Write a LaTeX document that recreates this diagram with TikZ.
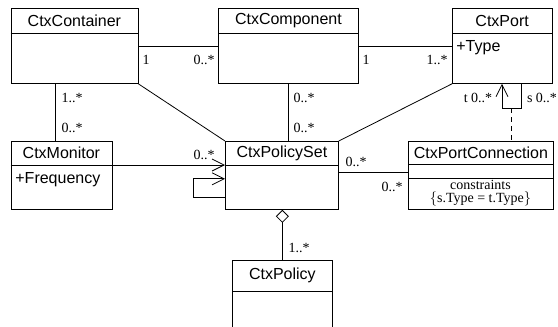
\documentclass[tikz,border=0pt]{standalone}
\usepackage{fontspec}
\setmainfont{Liberation Serif}
\setsansfont{Liberation Sans}
\usetikzlibrary{arrows.meta}
\usetikzlibrary{positioning}
\tikzset{classbox/.style = {draw, rectangle, inner sep = 0, anchor = north west}}
\tikzset{classname/.style = {font = \sffamily\fontsize{16}{16}\selectfont, inner sep = 0}}
\tikzset{attr/.style = {font = \sffamily\fontsize{16}{16}\selectfont, inner sep = 0, anchor = north west}}
\tikzset{mult/.style = {font = \fontsize{14}{14}\selectfont, inner sep = 0}}
\tikzset{nav/.style = {-{Straight Barb[length=12pt, width=12pt]}}}
\tikzset{agg/.style = {{Diamond[open, length=13pt, width=13pt]}-}}
% name, x, y, width, height, header height, title
\newcommand{\ctxclass}[7]{%
  \node [classbox, minimum width=#4, minimum height=#5] (#1) at (#2, #3) {};
  \draw ([yshift=-#6 pt]#1.north west) -- ([yshift=-#6 pt]#1.north east);
  \node [classname] (#1-name) at ([yshift=-#6 pt/2]#1.north) {#7};
}

\begin{document}
\begin{tikzpicture}[x=1pt, y=-1pt, line width=0.8pt]
    \clip (0, 0) rectangle (558, 327);

    \ctxclass{container}{10.5}{8}{127}{75}{25}{CtxContainer}
    \ctxclass{component}{218}{8}{140}{75}{25}{CtxComponent}
    \ctxclass{port}{452}{8}{99.5}{75}{25}{CtxPort}
    \ctxclass{monitor}{10.5}{141}{101}{68}{24}{CtxMonitor}
    \ctxclass{policyset}{225}{141}{113}{68}{24}{CtxPolicySet}
    \ctxclass{portconn}{408}{141}{145}{68}{23.5}{CtxPortConnection}
    \ctxclass{policy}{232}{260}{100}{90}{31}{CtxPolicy}

    \node [attr] (port-type) at (456, 40) {+Type};
    \node [attr] (monitor-freq) at (15, 172) {+Frequency};

    \draw ([yshift=-37pt]portconn.north west) -- ([yshift=-37pt]portconn.north east);
    \node [mult, align=center, font=\fontsize{14}{13}\selectfont] (portconn-rule) at (480.5, 193) {constraints\\$\{$s.Type = t.Type$\}$};

    \draw (container.east) -- (component.west)
      node [mult] at (146, 60) {1}
      node [mult] at (204, 60) {0..*};
    \draw (component.east) -- (port.west)
      node [mult] at (366, 60) {1}
      node [mult] at (437, 60) {1..*};

    \coordinate (c-down) at (55, 83);
    \draw (c-down) -- (c-down |- monitor.north)
      node [mult] at (72, 98) {1..*}
      node [mult] at (72, 128) {0..*};
    \draw (component.south) -- (component.south |- policyset.north)
      node [mult] at (304, 98) {0..*}
      node [mult] at (304, 128) {0..*};

    \draw (container.south east) -- (policyset.north west);
    \draw (port.south west) -- (policyset.north east);

    \draw [nav] ([yshift=-24pt]monitor.north east) -- ([yshift=-24pt]policyset.north west)
      node [mult] at (204, 155) {0..*};
    \draw [nav] ([yshift=12pt]policyset.south west) -- ++(-32, 0) -- ++(0, -19) -- ++(32, 0);

    \draw ([yshift=3pt]policyset.east) -- ([yshift=3pt]portconn.west)
      node [mult] at (356, 162) {0..*}
      node [mult] at (392, 187) {0..*};

    \draw [nav] ([xshift=69pt]port.south west) -- ++(0, 25) -- ++(-19, 0) -- ++(0, -25);
    \node [mult] (t-end) at (478, 98) {t 0..*};
    \node [mult] (s-end) at (542, 98) {s 0..*};
    \coordinate (conn-link) at (511.5, 108);
    \draw [dashed, dash pattern=on 5pt off 4pt] (conn-link) -- (conn-link |- portconn.north);

    \draw [agg] (policyset.south -| policy.north) -- (policy.north)
      node [mult] at (299, 248) {1..*};
\end{tikzpicture}
\end{document}
